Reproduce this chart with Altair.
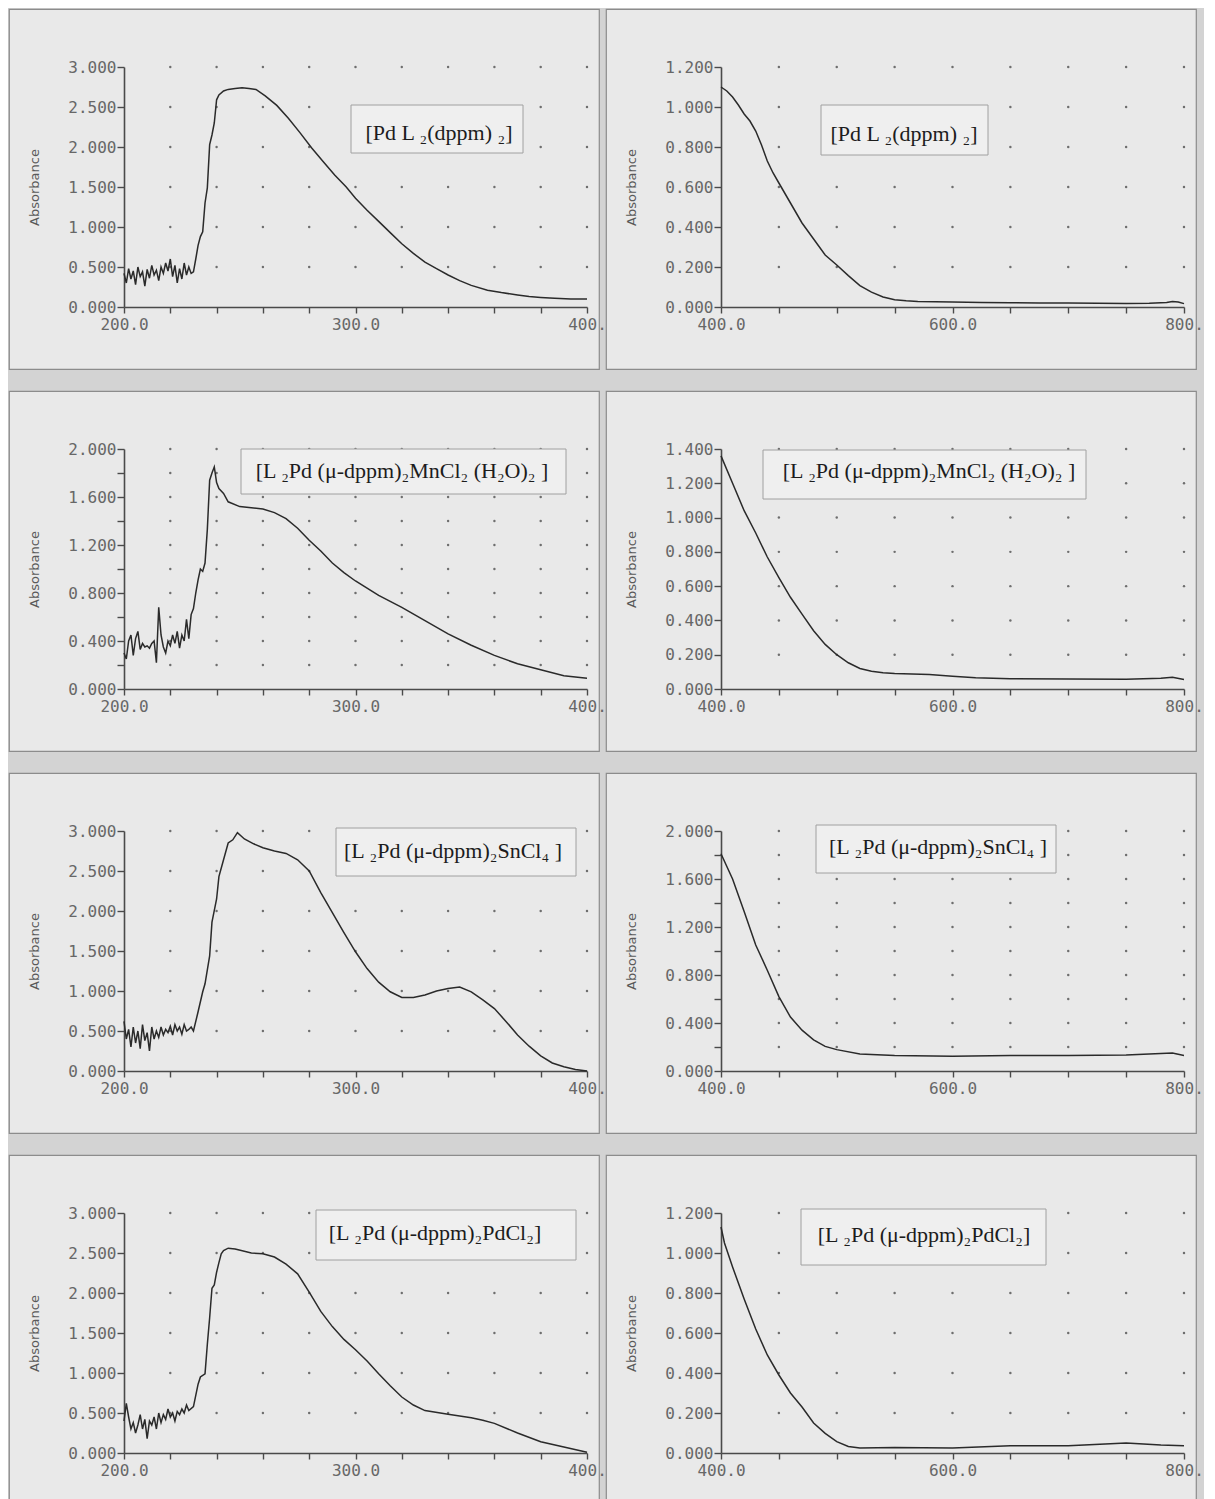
import altair as alt
import pandas as pd

# ---------------- data ----------------
# Panel 1 left: [Pd L2(dppm)2], 200-400 nm
p1l_wl = list(range(200, 230)) + [230, 231, 232, 233, 234, 235, 236, 237, 238, 239,
                                  240, 241, 243, 245, 248, 251, 254, 257, 261, 266,
                                  271, 276, 281, 286, 291, 296, 300, 305, 310, 315,
                                  320, 325, 330, 335, 340, 345, 350, 357, 363, 370,
                                  375, 380, 386, 393, 400]
p1l_ab = [0.42, 0.30, 0.48, 0.35, 0.45, 0.28, 0.50, 0.38, 0.44, 0.26,
          0.47, 0.36, 0.52, 0.40, 0.46, 0.33, 0.50, 0.42, 0.55, 0.45,
          0.60, 0.38, 0.52, 0.30, 0.48, 0.35, 0.55, 0.40, 0.50, 0.42] + \
         [0.44, 0.60, 0.77, 0.88, 0.94, 1.30, 1.49, 2.03, 2.15, 2.30,
          2.59, 2.65, 2.70, 2.72, 2.73, 2.74, 2.73, 2.72, 2.64, 2.52,
          2.36, 2.18, 1.99, 1.82, 1.65, 1.50, 1.36, 1.21, 1.07, 0.93,
          0.79, 0.67, 0.56, 0.48, 0.40, 0.33, 0.27, 0.21, 0.18, 0.15,
          0.13, 0.12, 0.11, 0.10, 0.10]

# Panel 1 right: [Pd L2(dppm)2], 400-800 nm
p1r_wl = [400, 405, 410, 415, 420, 425, 430, 435, 440, 445,
          450, 460, 470, 480, 490, 500, 510, 520, 530, 540,
          550, 560, 570, 585, 600, 625, 650, 675, 700, 725,
          750, 770, 785, 790, 795, 800]
p1r_ab = [1.10, 1.08, 1.05, 1.01, 0.965, 0.93, 0.88, 0.81, 0.73, 0.67,
          0.62, 0.52, 0.42, 0.34, 0.26, 0.21, 0.157, 0.107, 0.074, 0.05,
          0.036, 0.031, 0.028, 0.026, 0.025, 0.023, 0.021, 0.02, 0.02, 0.019,
          0.018, 0.019, 0.022, 0.028, 0.025, 0.017]

# Panel 2 left: MnCl2 complex, 200-400 nm
p2l_wl = list(range(200, 230)) + [230, 231, 232, 233, 234, 235, 236, 237, 238, 239,
                                  240, 241, 243, 245, 250, 255, 260, 265, 270, 275,
                                  280, 285, 290, 295, 300, 310, 320, 330, 340, 350,
                                  360, 370, 380, 390, 400]
p2l_ab = [0.30, 0.25, 0.40, 0.45, 0.28, 0.42, 0.48, 0.33, 0.38, 0.35,
          0.36, 0.34, 0.38, 0.40, 0.22, 0.68, 0.45, 0.35, 0.30, 0.40,
          0.36, 0.45, 0.38, 0.48, 0.34, 0.45, 0.40, 0.58, 0.42, 0.62] + \
         [0.67, 0.80, 0.91, 1.00, 0.98, 1.05, 1.33, 1.74, 1.80, 1.85,
          1.72, 1.67, 1.63, 1.56, 1.52, 1.51, 1.50, 1.47, 1.42, 1.34,
          1.24, 1.15, 1.05, 0.97, 0.90, 0.78, 0.68, 0.57, 0.46, 0.365,
          0.28, 0.21, 0.16, 0.11, 0.09]

# Panel 2 right: MnCl2 complex, 400-800 nm
p2r_wl = [400, 410, 420, 430, 440, 450, 460, 470, 480, 490,
          500, 510, 520, 530, 540, 550, 580, 600, 620, 650,
          700, 750, 780, 790, 800]
p2r_ab = [1.36, 1.20, 1.04, 0.91, 0.77, 0.65, 0.535, 0.437, 0.34, 0.26,
          0.20, 0.153, 0.12, 0.104, 0.095, 0.09, 0.084, 0.074, 0.065, 0.06,
          0.059, 0.057, 0.062, 0.068, 0.055]

# Panel 3 left: SnCl4 complex, 200-400 nm
p3l_wl = list(range(200, 230)) + [230, 232, 234, 235, 237, 238, 240, 241, 243, 245,
                                  247, 249, 252, 256, 260, 265, 270, 275, 280, 285,
                                  290, 295, 300, 305, 310, 315, 320, 325, 330, 335,
                                  340, 345, 350, 355, 360, 365, 370, 375, 380, 385,
                                  390, 395, 400]
p3l_ab = [0.62, 0.40, 0.52, 0.30, 0.55, 0.35, 0.50, 0.28, 0.58, 0.38,
          0.48, 0.25, 0.55, 0.40, 0.50, 0.42, 0.55, 0.45, 0.52, 0.48,
          0.56, 0.45, 0.58, 0.50, 0.55, 0.46, 0.58, 0.50, 0.52, 0.55] + \
         [0.50, 0.74, 0.99, 1.09, 1.44, 1.86, 2.15, 2.43, 2.64, 2.85,
          2.89, 2.98, 2.90, 2.84, 2.79, 2.75, 2.72, 2.64, 2.50, 2.23,
          1.98, 1.73, 1.49, 1.28, 1.11, 0.99, 0.92, 0.92, 0.95, 1.00,
          1.03, 1.05, 0.99, 0.89, 0.78, 0.62, 0.45, 0.31, 0.19, 0.10,
          0.054, 0.02, 0.0]

# Panel 3 right: SnCl4 complex, 400-800 nm
p3r_wl = [400, 410, 420, 430, 440, 450, 460, 470, 480, 490,
          500, 520, 550, 600, 650, 700, 750, 780, 790, 800]
p3r_ab = [1.81, 1.60, 1.33, 1.05, 0.84, 0.62, 0.45, 0.34, 0.26, 0.205,
          0.178, 0.142, 0.129, 0.123, 0.129, 0.13, 0.134, 0.145, 0.15, 0.13]

# Panel 4 left: PdCl2 complex, 200-400 nm
p4l_wl = list(range(200, 228)) + [228, 230, 232, 233, 235, 236, 237, 238, 239, 240,
                                  241, 242, 243, 245, 248, 255, 260, 265, 270, 275,
                                  280, 285, 290, 295, 300, 305, 310, 315, 320, 325,
                                  330, 340, 350, 355, 360, 370, 380, 390, 400]
p4l_ab = [0.40, 0.62, 0.45, 0.30, 0.38, 0.25, 0.35, 0.48, 0.30, 0.42,
          0.18, 0.40, 0.35, 0.45, 0.30, 0.50, 0.38, 0.48, 0.42, 0.55,
          0.45, 0.50, 0.40, 0.52, 0.48, 0.55, 0.50, 0.60] + \
         [0.53, 0.58, 0.86, 0.95, 0.99, 1.36, 1.69, 2.06, 2.10, 2.26,
          2.38, 2.49, 2.53, 2.56, 2.55, 2.50, 2.49, 2.45, 2.36, 2.24,
          2.01, 1.77, 1.58, 1.42, 1.29, 1.15, 0.99, 0.84, 0.70, 0.60,
          0.53, 0.485, 0.44, 0.41, 0.37, 0.25, 0.14, 0.074, 0.01]

# Panel 4 right: PdCl2 complex, 400-800 nm
p4r_wl = [400, 403, 410, 420, 430, 440, 450, 460, 470, 480,
          490, 500, 510, 520, 550, 600, 650, 700, 750, 780, 800]
p4r_ab = [1.13, 1.05, 0.93, 0.77, 0.62, 0.49, 0.39, 0.30, 0.23, 0.15,
          0.098, 0.057, 0.033, 0.025, 0.028, 0.025, 0.036, 0.036, 0.05, 0.04, 0.036]

# tick values
uv_xticks = [200, 220, 240, 260, 280, 300, 320, 340, 360, 380, 400]
vis_xticks = [400, 450, 500, 550, 600, 650, 700, 750, 800]
y30_ticks = [0, 0.5, 1.0, 1.5, 2.0, 2.5, 3.0]
y20_ticks = [0, 0.2, 0.4, 0.6, 0.8, 1.0, 1.2, 1.4, 1.6, 1.8, 2.0]
y20_labels = [0, 0.4, 0.8, 1.2, 1.6, 2.0]
y14_ticks = [0, 0.2, 0.4, 0.6, 0.8, 1.0, 1.2, 1.4]
y12_ticks = [0, 0.2, 0.4, 0.6, 0.8, 1.0, 1.2]

labels = {
    "r1": "[Pd L \u2082(dppm) \u2082]",
    "r2": "[L \u2082Pd (\u03bc-dppm)\u2082MnCl\u2082 (H\u2082O)\u2082 ]",
    "r3": "[L \u2082Pd (\u03bc-dppm)\u2082SnCl\u2084 ]",
    "r4": "[L \u2082Pd (\u03bc-dppm)\u2082PdCl\u2082]",
}

# ---------------- layout / style ----------------
W, H = 590, 360
X0, X1 = 115, 578
Y0, Y1 = 298, 58
AX = "#4a4a4a"
LBL = "#676767"
MONO = "DejaVu Sans Mono"
SERIF = "Liberation Serif, DejaVu Serif"


def make_panel(wl, ab, xdom, xticks, xlabel_every, ymax, yticks, ylabels,
               xdots, ydots, label, tx, ty, rect):
    df = pd.DataFrame({"wl": wl, "ab": ab})
    dots = pd.DataFrame([(x, y) for x in xdots for y in ydots], columns=["wl", "ab"])
    xs = alt.Scale(domain=xdom, range=[X0, X1], nice=False, zero=False)
    ys = alt.Scale(domain=[0, ymax], range=[Y0, Y1], nice=False, zero=True)
    last = xdom[1]
    xexpr = (f"datum.value % {xlabel_every} === 0 ? (datum.value === {last} ? '{last}.' : "
             f"format(datum.value, '.1f')) : ''")
    ylab = "[" + ",".join(str(v) for v in ylabels) + "]"
    yexpr = f"indexof({ylab}, datum.value) >= 0 ? format(datum.value, '.3f') : ''"
    common = dict(domainColor=AX, domainWidth=1.6, tickColor=AX, tickWidth=1.4,
                  labelFont=MONO, labelFontSize=16, labelColor=LBL, grid=False,
                  labelOverlap=False, labelFlush=False)
    xaxis = alt.Axis(values=xticks, labelExpr=xexpr, offset=-(H - Y0), title=None,
                     tickSize=6, labelPadding=3, **common)
    yaxis = alt.Axis(values=yticks, labelExpr=yexpr, offset=-X0, title="Absorbance",
                     tickSize=7, labelPadding=1, titleFont="DejaVu Sans",
                     titleFontSize=13, titleFontWeight="normal", titleColor="#5a5a5a",
                     titlePadding=26, **common)
    enc = dict(x=alt.X("wl:Q", scale=xs, axis=xaxis), y=alt.Y("ab:Q", scale=ys, axis=yaxis))
    pts = alt.Chart(dots).mark_circle(size=6, color="#6e6e6e", opacity=1).encode(**enc)
    line = alt.Chart(df).mark_line(color="#2a2a2a", strokeWidth=1.5).encode(**enc)
    box = alt.Chart(pd.DataFrame({"k": [0]})).mark_rect(
        fill="#efefef", stroke="#a0a0a0", strokeWidth=1
    ).encode(x=alt.value(rect[0]), x2=alt.value(rect[1]),
             y=alt.value(rect[2]), y2=alt.value(rect[3]))
    txt = alt.Chart(pd.DataFrame({"t": [label]})).mark_text(
        font=SERIF, fontSize=22, color="#1c1c1c", align="center", baseline="middle"
    ).encode(x=alt.value(tx), y=alt.value(ty), text="t:N")
    return alt.layer(pts, line, box, txt).properties(width=W, height=H)


uv_dots = [220, 240, 260, 280, 300, 320, 340, 360, 380, 400]
vis_dots = [450, 500, 550, 600, 650, 700, 750, 800]

p1l = make_panel(p1l_wl, p1l_ab, [200, 400], uv_xticks, 100, 3.0, y30_ticks, y30_ticks,
                 uv_dots, y30_ticks[1:], labels["r1"], 430, 124, [342, 514, 96, 144])
p1r = make_panel(p1r_wl, p1r_ab, [400, 800], vis_xticks, 200, 1.2, y12_ticks, y12_ticks,
                 vis_dots, y12_ticks[1:], labels["r1"], 298, 125, [215, 382, 96, 146])
p2l = make_panel(p2l_wl, p2l_ab, [200, 400], uv_xticks, 100, 2.0, y20_ticks, y20_labels,
                 uv_dots, y20_ticks[1:], labels["r2"], 393, 80, [232, 557, 58, 103])
p2r = make_panel(p2r_wl, p2r_ab, [400, 800], vis_xticks, 200, 1.4, y14_ticks, y14_ticks,
                 vis_dots, y14_ticks[1:], labels["r2"], 323, 80, [157, 480, 59, 108])
p3l = make_panel(p3l_wl, p3l_ab, [200, 400], uv_xticks, 100, 3.0, y30_ticks, y30_ticks,
                 uv_dots, y30_ticks[1:], labels["r3"], 444, 78, [327, 567, 55, 103])
p3r = make_panel(p3r_wl, p3r_ab, [400, 800], vis_xticks, 200, 2.0, y20_ticks, y20_labels,
                 vis_dots, y20_ticks[1:], labels["r3"], 332, 74, [210, 450, 52, 100])
p4l = make_panel(p4l_wl, p4l_ab, [200, 400], uv_xticks, 100, 3.0, y30_ticks, y30_ticks,
                 uv_dots, y30_ticks[1:], labels["r4"], 426, 78, [307, 567, 55, 105])
p4r = make_panel(p4r_wl, p4r_ab, [400, 800], vis_xticks, 200, 1.2, y12_ticks, y12_ticks,
                 vis_dots, y12_ticks[1:], labels["r4"], 318, 80, [195, 440, 54, 110])

rows = [alt.hconcat(a, b, spacing=7, bounds="flush")
        for a, b in [(p1l, p1r), (p2l, p2r), (p3l, p3r), (p4l, p4r)]]

chart = alt.vconcat(*rows, spacing=20).properties(
    background="#d3d3d3", padding=0
).configure_view(stroke="#8c8c8c", strokeWidth=1.2, fill="#e9e9e9")

chart.save("out.html", embed_options={"renderer": "svg", "actions": False})
